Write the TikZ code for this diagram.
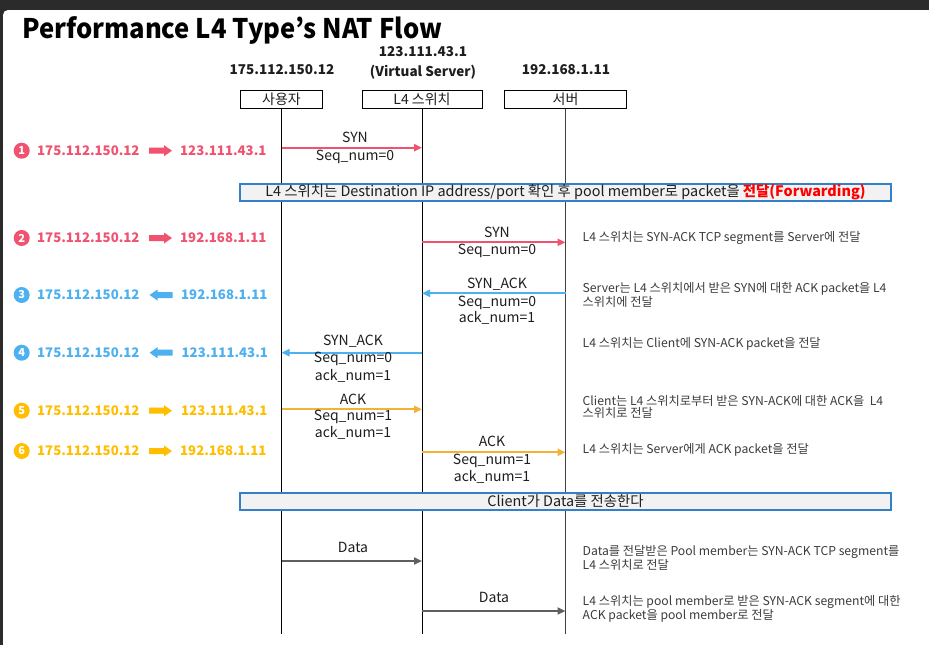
\documentclass[tikz,border=0pt]{standalone}
\usepackage{fontspec}
\usepackage{graphicx}
\setmainfont{Noto Sans CJK KR}
\usetikzlibrary{arrows.meta}
\definecolor{cred}{RGB}{240,82,112}
\definecolor{cblue}{RGB}{77,176,240}
\definecolor{cyel}{RGB}{255,190,0}
\definecolor{lyel}{RGB}{242,178,56}
\definecolor{bnd}{RGB}{52,128,200}
\definecolor{bfill}{RGB}{242,242,242}
\definecolor{txt}{RGB}{30,30,30}
\definecolor{desc}{RGB}{60,60,60}
\definecolor{datac}{RGB}{95,95,95}
\definecolor{darkbg}{RGB}{43,43,43}
\begin{document}
\begin{tikzpicture}[x=1pt,y=-1pt,
  hdr/.style={font=\bfseries\fontsize{13.5}{16}\selectfont, text=txt, inner sep=0},
  actor/.style={draw=black, line width=1pt, minimum height=18pt, inner sep=0, font=\fontsize{14}{16}\selectfont, text=txt},
  life/.style={line width=1pt, black},
  msg/.style={line width=2pt, -{Triangle[length=8pt,width=7pt]}},
  lbl/.style={font=\fontsize{14}{16}\selectfont, text=txt, inner sep=0, text height=10pt, text depth=3pt},
  desc/.style={font=\fontsize{12.2}{13}\selectfont, text=desc, inner sep=0, anchor=west},
  numc/.style={circle, fill=#1, text=white, font=\bfseries\fontsize{11}{12}\selectfont, minimum size=16pt, inner sep=0},
  ip/.style={font=\bfseries\fontsize{13.2}{16}\selectfont, text=#1, inner sep=0, anchor=west},
  banner/.style={draw=bnd, line width=1.3pt, fill=bfill, minimum width=651pt, minimum height=17pt, inner sep=0, font=\fontsize{14.4}{16}\selectfont, text=txt},
  barr/.pic={\fill (-11.5,-3) -- (3.5,-3) -- (3.5,-5.5) -- (11.5,0) -- (3.5,5.5) -- (3.5,3) -- (-11.5,3) -- cycle;}
]
\useasboundingbox (0,0) rectangle (929,645);
\fill[darkbg] (0,0) rectangle (929,645);
\fill[white, rounded corners=5pt] (3,10) rectangle (940,660);

% title
\node[anchor=base west, inner sep=0, font=\bfseries\fontsize{27}{30}\selectfont] (title) at (22,38) {\scalebox{0.948}[1]{Performance L4 Type’s NAT Flow}};

% headers
\node[hdr] (h1) at (282,70) {175.112.150.12};
\node[hdr] (h2a) at (423,52) {123.111.43.1};
\node[hdr] (h2b) at (423,72) {(Virtual Server)};
\node[hdr] (h3) at (566,70) {192.168.1.11};

% actors
\node[actor, minimum width=82pt] (u) at (281.5,99) {사용자};
\node[actor, minimum width=120pt] (l4) at (422,99) {L4 스위치};
\node[actor, minimum width=122pt] (sv) at (565.5,99) {서버};

% lifelines
\coordinate (ue) at (281.5,634);
\coordinate (le) at (422,634);
\coordinate (se) at (565.5,634);
\draw[life] (u.south) -- (ue);
\draw[life] (l4.south) -- (le);
\draw[life, line width=1.5pt, black!75] (sv.south) -- (se);

% left labels
\node[numc=cred] (n1) at (21.7,150.7) {1};
\node[ip=cred] (s1) at (37,150.7) {175.112.150.12};
\pic[cred] at (160.5,150.7) {barr};
\node[ip=cred] (t1) at (180,150.7) {123.111.43.1};

\node[numc=cred] (n2) at (21.7,238) {2};
\node[ip=cred] (s2) at (37,238) {175.112.150.12};
\pic[cred] at (160.5,238) {barr};
\node[ip=cred] (t2) at (180,238) {192.168.1.11};

\node[numc=cblue] (n3) at (21.7,295) {3};
\node[ip=cblue] (s3) at (37,295) {175.112.150.12};
\pic[cblue, xscale=-1] at (161,295) {barr};
\node[ip=cblue] (t3) at (181,295) {192.168.1.11};

\node[numc=cblue] (n4) at (21.7,352.7) {4};
\node[ip=cblue] (s4) at (37,352.7) {175.112.150.12};
\pic[cblue, xscale=-1] at (161,352.7) {barr};
\node[ip=cblue] (t4) at (181.5,352.7) {123.111.43.1};

\node[numc=cyel] (n5) at (21.7,410.7) {5};
\node[ip=cyel] (s5) at (37,410.7) {175.112.150.12};
\pic[cyel] at (160.5,410.7) {barr};
\node[ip=cyel] (t5) at (181,410.7) {123.111.43.1};

\node[numc=cyel] (n6) at (21.7,451) {6};
\node[ip=cyel] (s6) at (37,451) {175.112.150.12};
\pic[cyel] at (160.5,451) {barr};
\node[ip=cyel] (t6) at (180,451) {192.168.1.11};

% message 1
\draw[msg, cred] (u |- 0,147.7) -- (l4 |- 0,147.7);
\node[lbl] (m1a) at (355,139) {SYN};
\node[lbl] (m1b) at (355,156.7) {Seq\_num=0};

% banner 1
\node[banner] (b1) at (565.5,192.5) {L4 스위치는 Destination IP address/port 확인 후 pool member로 packet을 {\color{red}\bfseries 전달(Forwarding)}};

% message 2
\draw[msg, cred] (l4 |- 0,242.3) -- (sv |- 0,242.3);
\node[lbl] (m2a) at (497,234) {SYN};
\node[lbl] (m2b) at (497,251) {Seq\_num=0};

% message 3
\draw[msg, cblue] (sv |- 0,293.3) -- (l4 |- 0,293.3);
\node[lbl] (m3a) at (497,285) {SYN\_ACK};
\node[lbl] (m3b) at (497,302.7) {Seq\_num=0};
\node[lbl] (m3c) at (497,319.3) {ack\_num=1};

% message 4
\draw[msg, cblue] (l4 |- 0,352.7) -- (u |- 0,352.7);
\node[lbl] (m4a) at (353,342.3) {SYN\_ACK};
\node[lbl] (m4b) at (353,359.3) {Seq\_num=0};
\node[lbl] (m4c) at (353,376.7) {ack\_num=1};

% message 5
\draw[msg, lyel] (u |- 0,409.3) -- (l4 |- 0,409.3);
\node[lbl] (m5a) at (353,400.7) {ACK};
\node[lbl] (m5b) at (353,417.3) {Seq\_num=1};
\node[lbl] (m5c) at (353,434.3) {ack\_num=1};

% message 6
\draw[msg, lyel] (l4 |- 0,452.3) -- (sv |- 0,452.3);
\node[lbl] (m6a) at (492,443.3) {ACK};
\node[lbl] (m6b) at (492,460.7) {Seq\_num=1};
\node[lbl] (m6c) at (492,477.7) {ack\_num=1};

% banner 2
\node[banner] (b2) at (565.5,501.5) {Client가 Data를 전송한다};

% data
\draw[msg, datac] (u |- 0,561) -- (l4 |- 0,561);
\node[lbl] (m7) at (353,549) {Data};
\draw[msg, datac] (l4 |- 0,611) -- (sv |- 0,611);
\node[lbl] (m8) at (494,599.3) {Data};

% descriptions
\node[desc] (d1) at (582.5,238) {L4 스위치는 SYN-ACK TCP segment를 Server에 전달};
\node[desc] (d2a) at (582.5,288.8) {Server는 L4 스위치에서 받은 SYN에 대한 ACK packet을 L4};
\node[desc] (d2b) at (582.5,301.5) {스위치에 전달};
\node[desc] (d3) at (582.5,344.3) {L4 스위치는 Client에 SYN-ACK packet을 전달};
\node[desc] (d4a) at (582.5,400.5) {Client는 L4 스위치로부터 받은 SYN-ACK에 대한 ACK을\ \ L4};
\node[desc] (d4b) at (582.5,413.2) {스위치로 전달};
\node[desc] (d5) at (582.5,450) {L4 스위치는 Server에게 ACK packet을 전달};
\node[desc] (d6a) at (582.5,551.7) {Data를 전달받은 Pool member는 SYN-ACK TCP segment를};
\node[desc] (d6b) at (582.5,565) {L4 스위치로 전달};
\node[desc] (d7a) at (582.5,602.3) {L4 스위치는 pool member로 받은 SYN-ACK segment에 대한};
\node[desc] (d7b) at (582.5,615.7) {ACK packet을 pool member로 전달};
\end{tikzpicture}
\end{document}
